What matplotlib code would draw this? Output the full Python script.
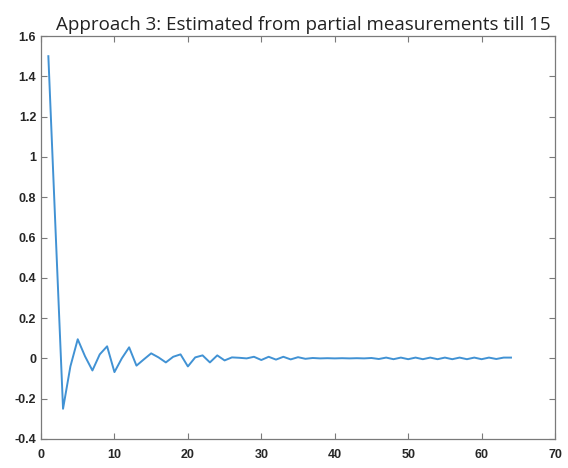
import numpy as np
import matplotlib.pyplot as plt

# Data
x = np.arange(1, 65)
y = [1.50, 0.62, -0.25, -0.04, 0.095, 0.01, -0.06, 0.02, 0.06, -0.068,
     0.0, 0.055, -0.036, -0.005, 0.025, 0.005, -0.02, 0.008, 0.02, -0.04,
     0.005, 0.015, -0.02, 0.015, -0.01, 0.005, 0.003, 0.0, 0.008, -0.008,
     0.008, -0.006, 0.008, -0.005, 0.006, -0.002, 0.002, 0.0, 0.001, 0.0,
     0.001, 0.0, 0.001, 0.0, 0.002, -0.003, 0.004, -0.004, 0.004, -0.004,
     0.004, -0.004, 0.004, -0.004, 0.004, -0.004, 0.004, -0.004, 0.004, -0.004,
     0.004, -0.003, 0.004, 0.004]

plt.rcParams['font.family'] = ['Liberation Sans', 'DejaVu Sans']

fig = plt.figure(figsize=(5.68, 4.68), dpi=100)
ax = fig.add_axes([0.0722, 0.062, 0.905, 0.861])
ax.plot(x, y, color='#4192d4', linewidth=1.4)

ax.set_xlim(0, 70)
ax.set_ylim(-0.4, 1.6)
ax.set_xticks(np.arange(0, 71, 10))
ax.set_yticks(np.round(np.arange(-0.4, 1.61, 0.2), 1))
ax.set_yticklabels(['-0.4', '-0.2', '0', '0.2', '0.4', '0.6', '0.8', '1', '1.2', '1.4', '1.6'])
ax.tick_params(direction='in', top=True, right=True, length=4, width=0.8,
               color='#7a7a7a', labelsize=9, labelcolor='#262626')
ax.tick_params(axis='x', pad=7)
for lab in ax.get_xticklabels() + ax.get_yticklabels():
    lab.set_fontweight('bold')
for s in ax.spines.values():
    s.set_color('#7a7a7a')
    s.set_linewidth(0.9)

ax.set_title('Approach 3: Estimated from partial measurements till 15',
             fontsize=13.5, family='Open Sans', color='#222222', pad=4, x=0.51)

fig.savefig('out.png', dpi=100)
